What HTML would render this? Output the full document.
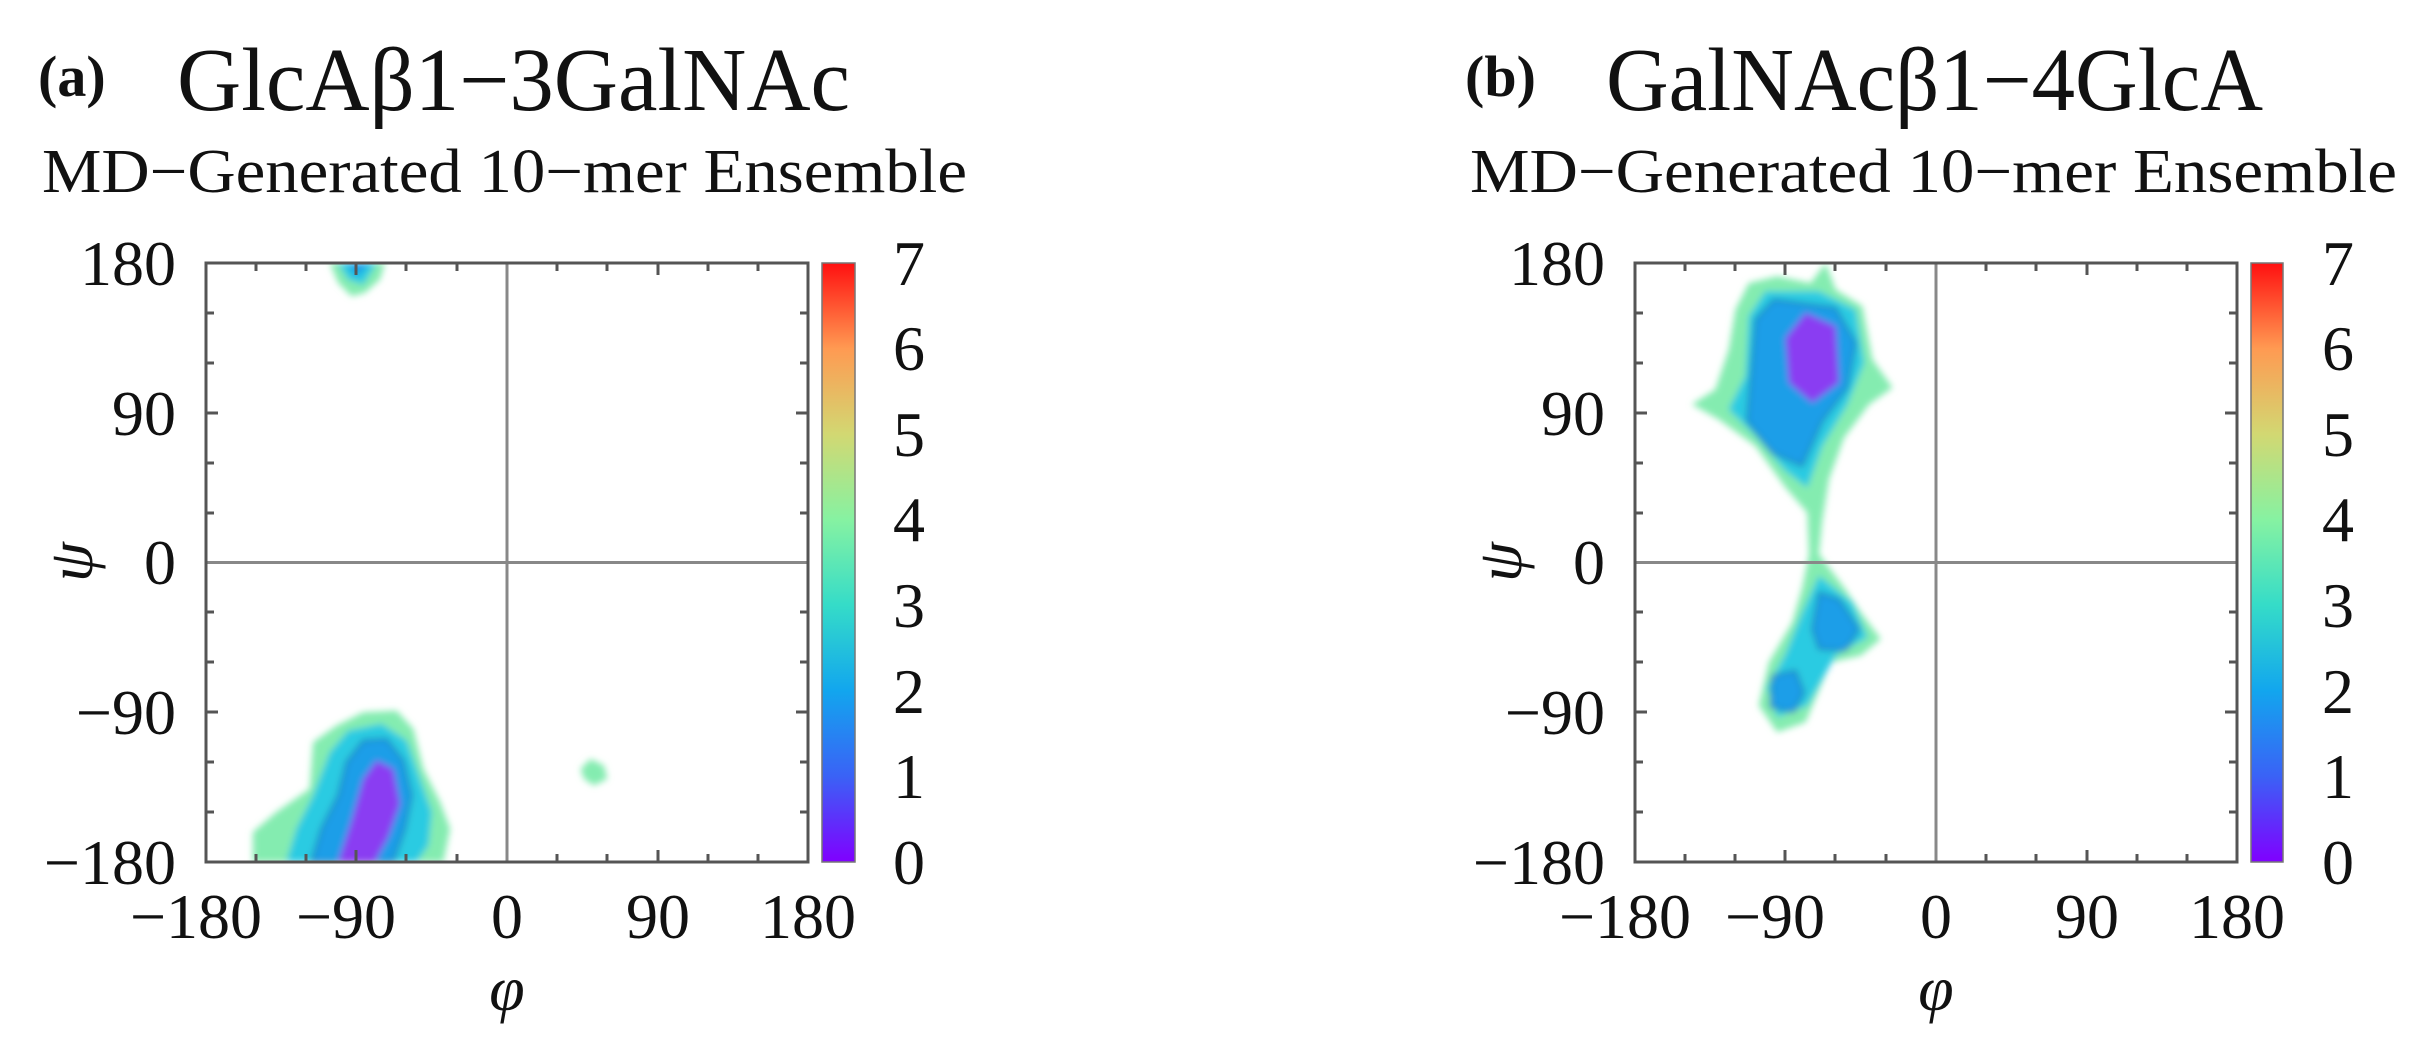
<!DOCTYPE html>
<html><head><meta charset="utf-8"><style>
html,body{margin:0;padding:0;background:#fff;}
svg{display:block;}
text{font-family:"Liberation Serif",serif;fill:#111;}
</style></head><body>
<svg width="2423" height="1059" viewBox="0 0 2423 1059" xmlns="http://www.w3.org/2000/svg">
<defs>
<linearGradient id="cb" x1="0" y1="1" x2="0" y2="0">
<stop offset="0" stop-color="#8000ff"/>
<stop offset="0.143" stop-color="#3a62f6"/>
<stop offset="0.286" stop-color="#12a6ee"/>
<stop offset="0.429" stop-color="#35dcc8"/>
<stop offset="0.571" stop-color="#86f2a2"/>
<stop offset="0.714" stop-color="#d2d872"/>
<stop offset="0.857" stop-color="#ff9a52"/>
<stop offset="1" stop-color="#ff1010"/>
</linearGradient>
<filter id="bl" x="-10%" y="-10%" width="120%" height="120%"><feGaussianBlur stdDeviation="2"/></filter>
<clipPath id="ca"><rect x="206" y="263" width="602" height="599"/></clipPath>
<clipPath id="cbp"><rect x="1635" y="263" width="602" height="599"/></clipPath>
</defs>

<text x="38" y="96" font-size="58" font-weight="bold">(a)</text>
<text x="177" y="110" font-size="90" textLength="673" lengthAdjust="spacingAndGlyphs">GlcAβ1−3GalNAc</text>
<text x="42" y="192" font-size="62" textLength="925" lengthAdjust="spacingAndGlyphs">MD−Generated 10−mer Ensemble</text>
<text x="1465" y="96" font-size="58" font-weight="bold">(b)</text>
<text x="1606" y="110" font-size="90" textLength="657" lengthAdjust="spacingAndGlyphs">GalNAcβ1−4GlcA</text>
<text x="1470" y="192" font-size="62" textLength="927" lengthAdjust="spacingAndGlyphs">MD−Generated 10−mer Ensemble</text>

<g clip-path="url(#ca)">
<g transform="translate(507,562.5) scale(1.672,-1.664)" filter="url(#bl)">
<path fill="#84ecb0" d="M-152,-180 L-152,-162 L-138,-150 L-118,-136 L-116,-108 L-102,-98 L-86,-90 L-66,-89 L-56,-100 L-50,-124 L-40,-144 L-34,-160 L-38,-180 Z"/>
<path fill="#2ccbe2" d="M-132,-180 L-126,-160 L-116,-140 L-106,-114 L-95,-101 L-75,-97 L-60,-107 L-52,-130 L-45,-150 L-47,-170 L-54,-180 Z"/>
<path fill="#1e9ee8" stroke="#1a4a8a" stroke-width="0.8" d="M-117,-180 L-111,-160 L-101,-140 L-96,-120 L-86,-107 L-72,-106 L-62,-119 L-57,-140 L-61,-160 L-68,-180 Z"/>
<path fill="#8a3cf2" d="M-101,-180 L-93,-155 L-86,-130 L-78,-119 L-68,-124 L-64,-145 L-71,-165 L-79,-180 Z"/>
<path fill="#84ecb0" d="M-106,180 L-101,168 L-93,160 L-85,162 L-76,170 L-73,180 Z"/>
<path fill="#2ccbe2" d="M-101,180 L-95,170 L-86,167 L-78,180 Z"/>
<path fill="#1e9ee8" d="M-96,180 L-90,172 L-82,180 Z"/>
<path fill="#84ecb0" d="M44,-124 L50,-118 L58,-122 L60,-130 L52,-134 L46,-130 Z"/>
</g>
</g>
<g stroke="#888" stroke-width="3">
<line x1="507" y1="263" x2="507" y2="862"/>
<line x1="206" y1="562.5" x2="808" y2="562.5"/>
</g>
<rect x="206" y="263" width="602" height="599" fill="none" stroke="#555" stroke-width="3"/>
<g stroke="#555" stroke-width="3">
<path d="M256,263v8M306,263v8M356,263v12M406,263v8M457,263v8M557,263v8M607,263v8M658,263v12M708,263v8M758,263v8
M256,862v-8M306,862v-8M356,862v-12M406,862v-8M457,862v-8M557,862v-8M607,862v-8M658,862v-12M708,862v-8M758,862v-8
M206,313h8M206,363h8M206,413h12M206,463h8M206,513h8M206,612h8M206,662h8M206,712h12M206,762h8M206,812h8
M808,313h-8M808,363h-8M808,413h-12M808,463h-8M808,513h-8M808,612h-8M808,662h-8M808,712h-12M808,762h-8M808,812h-8"/>
</g>
<rect x="822" y="263" width="33" height="599" fill="url(#cb)" stroke="#777" stroke-width="1.5"/>
<g font-size="64">
<text x="176" y="285" text-anchor="end">180</text>
<text x="176" y="435" text-anchor="end">90</text>
<text x="176" y="584" text-anchor="end">0</text>
<text x="176" y="734" text-anchor="end">−90</text>
<text x="176" y="884" text-anchor="end">−180</text>
<text x="196" y="938" text-anchor="middle">−180</text>
<text x="346" y="938" text-anchor="middle">−90</text>
<text x="507" y="938" text-anchor="middle">0</text>
<text x="658" y="938" text-anchor="middle">90</text>
<text x="808" y="938" text-anchor="middle">180</text>
<text x="893" y="884">0</text><text x="893" y="798">1</text><text x="893" y="713">2</text><text x="893" y="627">3</text>
<text x="893" y="541">4</text><text x="893" y="456">5</text><text x="893" y="370">6</text><text x="893" y="285">7</text>
<text x="507" y="1010" text-anchor="middle" font-style="italic">φ</text>
<text x="0" y="0" font-style="italic" text-anchor="middle" transform="translate(92,562) rotate(-90)">ψ</text>
</g>

<g clip-path="url(#cbp)">
<g transform="translate(1936,562.5) scale(1.672,-1.664)" filter="url(#bl)">
<path fill="#84ecb0" d="M-146,95 L-132,104 L-124,128 L-120,152 L-112,168 L-95,172 L-75,168 L-66,180 L-60,164 L-44,154 L-38,122 L-26,105 L-40,95 L-55,75 L-64,50 L-68,25 L-70,5 L-55,-15 L-45,-30 L-33,-46 L-45,-56 L-63,-60 L-78,-96 L-95,-102 L-106,-86 L-100,-60 L-86,-36 L-80,-15 L-76,5 L-77,30 L-90,45 L-108,70 L-130,86 Z"/>
<path fill="#2ccbe2" d="M-124,92 L-114,112 L-112,148 L-102,163 L-70,163 L-48,152 L-43,120 L-53,95 L-68,70 L-77,45 L-90,55 L-108,76 Z"/>
<path fill="#2ccbe2" d="M-70,-8 L-50,-24 L-41,-45 L-60,-56 L-77,-86 L-95,-93 L-101,-75 L-90,-55 L-80,-30 Z"/>
<path fill="#1e9ee8" stroke="#1a4a8a" stroke-width="0.8" d="M-113,85 L-108,146 L-97,158 L-60,153 L-48,132 L-53,105 L-68,85 L-80,58 L-98,66 Z"/>
<path fill="#8a3cf2" d="M-90,135 L-78,150 L-60,142 L-58,108 L-74,96 L-88,108 Z"/>
<path fill="#1e9ee8" stroke="#1a4a8a" stroke-width="0.8" d="M-70,-18 L-58,-22 L-46,-40 L-54,-53 L-70,-52 L-74,-40 Z"/>
<path fill="#1e9ee8" stroke="#1a4a8a" stroke-width="0.8" d="M-98,-68 L-84,-65 L-79,-78 L-85,-90 L-99,-87 Z"/>
</g>
</g>
<g stroke="#888" stroke-width="3">
<line x1="1936" y1="263" x2="1936" y2="862"/>
<line x1="1635" y1="562.5" x2="2237" y2="562.5"/>
</g>
<rect x="1635" y="263" width="602" height="599" fill="none" stroke="#555" stroke-width="3"/>
<g stroke="#555" stroke-width="3" transform="translate(1429,0)">
<path d="M256,263v8M306,263v8M356,263v12M406,263v8M457,263v8M557,263v8M607,263v8M658,263v12M708,263v8M758,263v8
M256,862v-8M306,862v-8M356,862v-12M406,862v-8M457,862v-8M557,862v-8M607,862v-8M658,862v-12M708,862v-8M758,862v-8
M206,313h8M206,363h8M206,413h12M206,463h8M206,513h8M206,612h8M206,662h8M206,712h12M206,762h8M206,812h8
M808,313h-8M808,363h-8M808,413h-12M808,463h-8M808,513h-8M808,612h-8M808,662h-8M808,712h-12M808,762h-8M808,812h-8"/>
</g>
<rect x="2251" y="263" width="32" height="599" fill="url(#cb)" stroke="#777" stroke-width="1.5"/>
<g font-size="64" transform="translate(1429,0)">
<text x="176" y="285" text-anchor="end">180</text>
<text x="176" y="435" text-anchor="end">90</text>
<text x="176" y="584" text-anchor="end">0</text>
<text x="176" y="734" text-anchor="end">−90</text>
<text x="176" y="884" text-anchor="end">−180</text>
<text x="196" y="938" text-anchor="middle">−180</text>
<text x="346" y="938" text-anchor="middle">−90</text>
<text x="507" y="938" text-anchor="middle">0</text>
<text x="658" y="938" text-anchor="middle">90</text>
<text x="808" y="938" text-anchor="middle">180</text>
<text x="893" y="884">0</text><text x="893" y="798">1</text><text x="893" y="713">2</text><text x="893" y="627">3</text>
<text x="893" y="541">4</text><text x="893" y="456">5</text><text x="893" y="370">6</text><text x="893" y="285">7</text>
<text x="507" y="1010" text-anchor="middle" font-style="italic">φ</text>
<text x="0" y="0" font-style="italic" text-anchor="middle" transform="translate(92,562) rotate(-90)">ψ</text>
</g>
</svg>
</body></html>
